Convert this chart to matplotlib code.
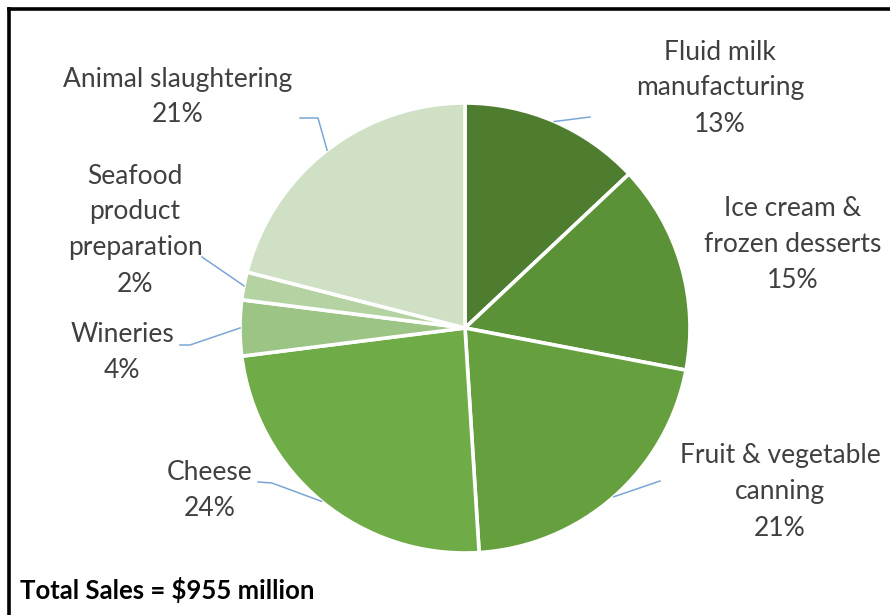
import numpy as np
import matplotlib
matplotlib.use("Agg")
import matplotlib.pyplot as plt
from matplotlib.lines import Line2D

# Sales share by industry (percent of total), clockwise from 12 o'clock
categories = ["Fluid milk\nmanufacturing", "Ice cream &\nfrozen desserts",
              "Fruit & vegetable\ncanning", "Cheese", "Wineries",
              "Seafood\nproduct\npreparation", "Animal slaughtering"]
shares = [13, 15, 21, 24, 4, 2, 21]
colors = ["#4f7d30", "#5b9237", "#659f3e", "#6fab46",
          "#9cc485", "#b5d3a2", "#cfe0c5"]
total_label = "Total Sales = $955 million"

W, H = 890, 615
CX, CY, R = 465, 328, 225  # pie centre / radius in pixels

fig = plt.figure(figsize=(W / 100, H / 100), dpi=100)
ax = fig.add_axes([0, 0, 1, 1])

wedges, _ = ax.pie(shares, colors=colors, startangle=90, counterclock=False,
                   radius=1.0, center=(0, 0),
                   wedgeprops=dict(edgecolor="white", linewidth=2.6))
ax.set_aspect("auto")
ax.set_xlim(-CX / R, (W - CX) / R)
ax.set_ylim(-(H - CY) / R, CY / R)
ax.axis("off")


def px(x, y):
    """Pixel position (from top-left) to data coordinates."""
    return ((x - CX) / R, (CY - y) / R)


# label text centres and leader-line elbow points (pixels)
label_pos = [(720, 88), (793, 245), (780, 492), (210, 491),
             (122, 353), (135, 230), (178, 97)]
elbows = [(590, 117), None, (660, 481), (272, 483),
          (190, 345), (202, 257), (318, 118)]
stubs = [None, None, None, (258, 482), (180, 345), None, (300, 118)]

font = ["Lato", "DejaVu Sans"]
for i, (cat, val) in enumerate(zip(categories, shares)):
    w = wedges[i]
    mid = np.deg2rad((w.theta1 + w.theta2) / 2)
    edge = (np.cos(mid), np.sin(mid))
    tx, ty = px(*label_pos[i])
    ax.text(tx, ty, f"{cat}\n{val}%", ha="center", va="center",
            fontsize=19, color="#404040", family=font, linespacing=1.55)
    if elbows[i] is not None:
        pts = [edge, px(*elbows[i])]
        if stubs[i] is not None:
            pts.append(px(*stubs[i]))
        xs, ys = zip(*pts)
        ax.add_line(Line2D(xs, ys, color="#7aa6d6", linewidth=1.1))

fig.text(20 / W, 1 - 590 / H, total_label, ha="left", va="center",
         fontsize=18.5, fontweight="bold", color="#000000", family=font)

# frame along the left and top edges
fig.add_artist(Line2D([8.5 / W, 8.5 / W], [0, 1 - 8.5 / H], color="black",
                      linewidth=2.6, transform=fig.transFigure,
                      solid_capstyle="projecting"))
fig.add_artist(Line2D([8.5 / W, 1], [1 - 8.5 / H, 1 - 8.5 / H], color="black",
                      linewidth=2.6, transform=fig.transFigure,
                      solid_capstyle="projecting"))

fig.savefig("out.png", dpi=100, facecolor="white")
